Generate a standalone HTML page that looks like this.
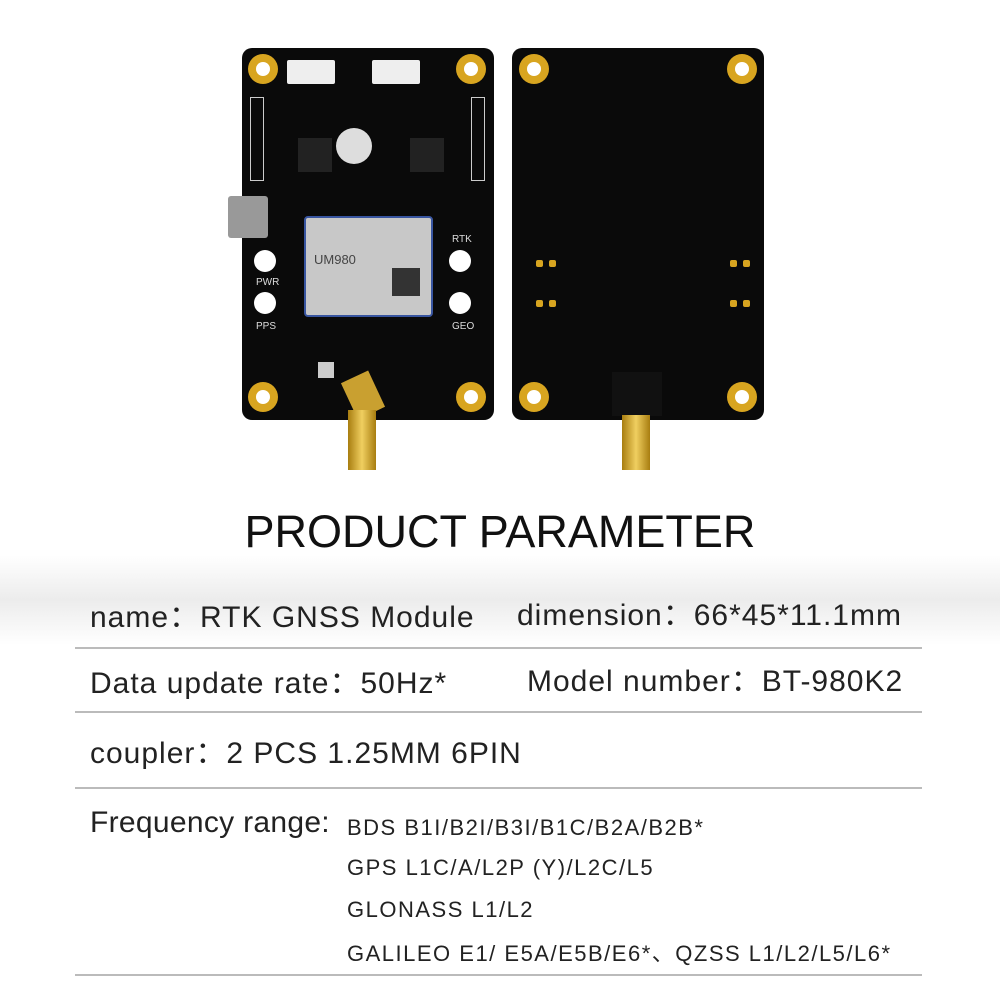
<!DOCTYPE html>
<html><head><meta charset="utf-8"><style>
body{margin:0;width:1000px;height:1000px;position:relative;overflow:hidden;background:#fff;font-family:"Liberation Sans","Noto Sans CJK SC",sans-serif;}
.a{position:absolute}
.board{position:absolute;background:#0a0a0a;border-radius:10px}
.hole{position:absolute;width:30px;height:30px;border-radius:50%;background:#d8a520;}
.hole::after{content:"";position:absolute;left:8px;top:8px;width:14px;height:14px;border-radius:50%;background:#fff}
.line{position:absolute;left:75px;width:847px;height:2px;background:#bbb}
.t{position:absolute;font-size:30px;letter-spacing:1px;color:#222;white-space:nowrap}
.f{position:absolute;font-size:22px;letter-spacing:1.5px;color:#222;white-space:nowrap;left:347px}
.pin{position:absolute;width:7px;height:7px;background:#d8a520;border-radius:2px}
.lbl{position:absolute;color:#ddd;font-size:7px;white-space:nowrap}
</style></head><body>
<div class="a" style="left:0;top:555px;width:1000px;height:90px;background:linear-gradient(#fff,#ececec 50%,#fff)"></div>

<!-- left board -->
<div class="board" style="left:242px;top:48px;width:252px;height:372px"></div>
<div class="hole" style="left:248px;top:54px"></div>
<div class="hole" style="left:456px;top:54px"></div>
<div class="hole" style="left:248px;top:382px"></div>
<div class="hole" style="left:456px;top:382px"></div>
<div class="a" style="left:287px;top:60px;width:48px;height:24px;background:#eee;border-radius:2px"></div>
<div class="a" style="left:372px;top:60px;width:48px;height:24px;background:#eee;border-radius:2px"></div>
<div class="a" style="left:250px;top:97px;width:12px;height:82px;border:1px solid #ccc"></div>
<div class="a" style="left:471px;top:97px;width:12px;height:82px;border:1px solid #ccc"></div>
<div class="a" style="left:336px;top:128px;width:36px;height:36px;border-radius:50%;background:#ddd"></div>
<div class="a" style="left:298px;top:138px;width:34px;height:34px;background:#222"></div>
<div class="a" style="left:410px;top:138px;width:34px;height:34px;background:#222"></div>
<div class="a" style="left:228px;top:196px;width:40px;height:42px;background:#999;border-radius:3px"></div>
<div class="a" style="left:304px;top:216px;width:125px;height:97px;background:#c8c8c8;border:2px solid #3855a0;border-radius:4px"></div>
<div class="a" style="left:314px;top:252px;font-size:13px;color:#444">UM980</div>
<div class="a" style="left:392px;top:268px;width:28px;height:28px;background:#333"></div>
<div class="a" style="left:254px;top:250px;width:22px;height:22px;border-radius:50%;background:#fff"></div>
<div class="a" style="left:254px;top:292px;width:22px;height:22px;border-radius:50%;background:#fff"></div>
<div class="a" style="left:449px;top:250px;width:22px;height:22px;border-radius:50%;background:#fff"></div>
<div class="a" style="left:449px;top:292px;width:22px;height:22px;border-radius:50%;background:#fff"></div>
<div class="lbl" style="left:256px;top:277px;font-size:10px">PWR</div>
<div class="lbl" style="left:256px;top:321px;font-size:10px">PPS</div>
<div class="lbl" style="left:452px;top:234px;font-size:10px">RTK</div>
<div class="lbl" style="left:452px;top:321px;font-size:10px">GEO</div>
<div class="a" style="left:318px;top:362px;width:16px;height:16px;background:#ccc"></div>
<div class="a" style="left:348px;top:375px;width:30px;height:40px;background:#c9a030;transform:rotate(-25deg)"></div>
<div class="a" style="left:348px;top:410px;width:28px;height:60px;background:linear-gradient(90deg,#a87d10,#f0cf60,#a87d10)"></div>

<!-- right board -->
<div class="board" style="left:512px;top:48px;width:252px;height:372px"></div>
<div class="hole" style="left:519px;top:54px"></div>
<div class="hole" style="left:727px;top:54px"></div>
<div class="hole" style="left:519px;top:382px"></div>
<div class="hole" style="left:727px;top:382px"></div>
<div class="pin" style="left:536px;top:260px"></div><div class="pin" style="left:549px;top:260px"></div>
<div class="pin" style="left:536px;top:300px"></div><div class="pin" style="left:549px;top:300px"></div>
<div class="pin" style="left:730px;top:260px"></div><div class="pin" style="left:743px;top:260px"></div>
<div class="pin" style="left:730px;top:300px"></div><div class="pin" style="left:743px;top:300px"></div>
<div class="a" style="left:612px;top:372px;width:50px;height:44px;background:#111"></div>
<div class="a" style="left:622px;top:415px;width:28px;height:55px;background:linear-gradient(90deg,#a87d10,#f0cf60,#a87d10)"></div>

<div class="a" style="left:0;width:1000px;top:506px;text-align:center;font-size:45px;color:#111">PRODUCT PARAMETER</div>

<div class="t" style="left:90px;top:592px">name：RTK GNSS Module</div>
<div class="t" style="left:517px;top:590px">dimension：66*45*11.1mm</div>
<div class="line" style="top:647px"></div>
<div class="t" style="left:90px;top:658px">Data update rate：50Hz*</div>
<div class="t" style="left:527px;top:656px">Model number：BT-980K2</div>
<div class="line" style="top:711px"></div>
<div class="t" style="left:90px;top:728px">coupler：2 PCS 1.25MM 6PIN</div>
<div class="line" style="top:787px"></div>
<div class="t" style="left:90px;top:806px;letter-spacing:0.3px">Frequency range:</div>
<div class="f" style="top:815px">BDS B1I/B2I/B3I/B1C/B2A/B2B*</div>
<div class="f" style="top:855px">GPS L1C/A/L2P (Y)/L2C/L5</div>
<div class="f" style="top:897px">GLONASS L1/L2</div>
<div class="f" style="top:936px">GALILEO E1/ E5A/E5B/E6*、QZSS L1/L2/L5/L6*</div>
<div class="line" style="top:974px"></div>
</body></html>
